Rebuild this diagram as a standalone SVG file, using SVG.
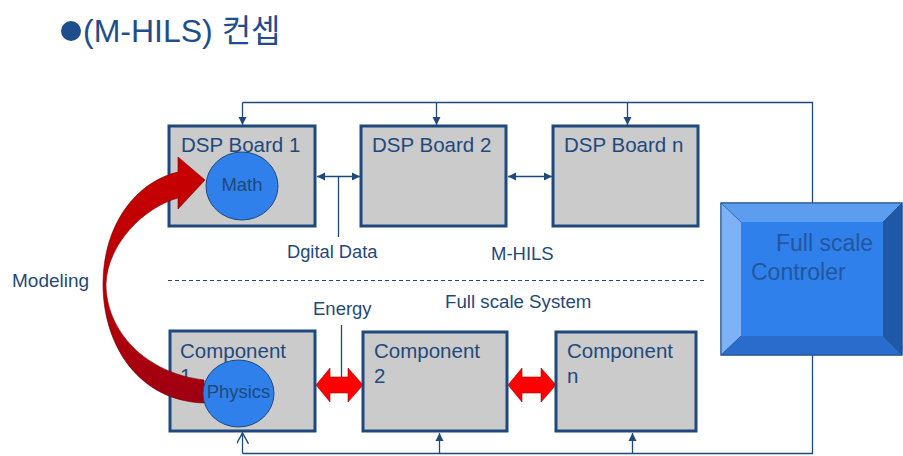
<svg xmlns="http://www.w3.org/2000/svg" width="903" height="456" viewBox="0 0 903 456">
<style>
.t{font-family:"Liberation Sans","Noto Sans CJK KR",Arial,sans-serif;fill:#1F497D}
.box{fill:#CBCBCB;stroke:#1F497D;stroke-width:3}
.circ{fill:#2F80EA;stroke:#1F497D;stroke-width:1}
.ln{fill:none;stroke:#1F497D;stroke-width:1.3}
.red{fill:#FF0000;stroke:#B00000;stroke-width:0.6}
</style>
<defs>
<marker id="ah" markerUnits="userSpaceOnUse" markerWidth="10" markerHeight="10" refX="8" refY="4" orient="auto-start-reverse" viewBox="0 0 10 8">
<path d="M0,0 L8,4 L0,8 Z" fill="#1F497D"/>
</marker>
<marker id="ao" markerUnits="userSpaceOnUse" markerWidth="12" markerHeight="12" refX="9" refY="5" orient="auto" viewBox="0 0 10 10">
<path d="M0,0 L9,5 L0,10" fill="none" stroke="#1F497D" stroke-width="1.2"/>
</marker>
<linearGradient id="rg" x1="0" y1="0" x2="0" y2="1">
<stop offset="0" stop-color="#C80000"/>
<stop offset="0.55" stop-color="#B80008"/>
<stop offset="1" stop-color="#9E0012"/>
</linearGradient>
</defs>

<g id="title">
<circle cx="71" cy="31" r="10" fill="#1F4E8C"/>
<text class="t" x="83" y="42" font-size="32" style="fill:#1F4E8C">(M-HILS) 컨셉</text>
</g>

<g id="connectors">
<polyline class="ln" points="242.5,102.5 812.5,102.5 812.5,203"/>
<line class="ln" x1="242.5" y1="102.5" x2="242.5" y2="125" marker-end="url(#ah)"/>
<line class="ln" x1="436.5" y1="102.5" x2="436.5" y2="125" marker-end="url(#ah)"/>
<line class="ln" x1="627.5" y1="102.5" x2="627.5" y2="125" marker-end="url(#ah)"/>
<polyline class="ln" points="812.5,355 812.5,453.5 242.5,453.5"/>
<line class="ln" x1="242.5" y1="453.5" x2="242.5" y2="433" marker-end="url(#ao)"/>
<line class="ln" x1="439.5" y1="453.5" x2="439.5" y2="433" marker-end="url(#ah)"/>
<line class="ln" x1="632.5" y1="453.5" x2="632.5" y2="433" marker-end="url(#ah)"/>
<line class="ln" x1="317" y1="176.5" x2="360" y2="176.5" marker-start="url(#ah)" marker-end="url(#ah)"/>
<line class="ln" x1="508" y1="176.5" x2="552" y2="176.5" marker-start="url(#ah)" marker-end="url(#ah)"/>
<line class="ln" x1="338.5" y1="176.5" x2="338.5" y2="237"/>
<line class="ln" x1="341.5" y1="325" x2="341.5" y2="378"/>
<line x1="168" y1="280.5" x2="706" y2="280.5" stroke="#1F497D" stroke-width="1.1" stroke-dasharray="4,3"/>
<polygon class="red" points="316,385 330,368 330,377 348,377 348,368 363,385 348,402 348,393 330,393 330,402"/>
<polygon class="red" points="508,385 522,368 522,377 541,377 541,368 556,385 541,402 541,393 522,393 522,402"/>
</g>

<g id="labels">
<text class="t" x="287" y="258" font-size="18.3">Dgital Data</text>
<text class="t" x="491" y="260" font-size="18.5">M-HILS</text>
<text class="t" x="12" y="287" font-size="19">Modeling</text>
<text class="t" x="313" y="315" font-size="18.5">Energy</text>
<text class="t" x="445" y="308" font-size="18.7">Full scale System</text>
</g>

<g id="dsp1">
<rect class="box" x="169" y="126" width="146" height="100"/>
<text class="t" x="181" y="152" font-size="20.5">DSP Board 1</text>
</g>
<g id="dsp2">
<rect class="box" x="361" y="126" width="145" height="100"/>
<text class="t" x="372" y="152" font-size="20.5">DSP Board 2</text>
</g>
<g id="dspn">
<rect class="box" x="553" y="126" width="145" height="100"/>
<text class="t" x="564" y="152" font-size="20.5">DSP Board n</text>
</g>

<g id="comp1">
<rect class="box" x="170" y="331" width="145" height="100"/>
<text class="t" x="180" y="358" font-size="20.5">Component</text>
<text class="t" x="180" y="383" font-size="20.5">1</text>
</g>
<g id="comp2">
<rect class="box" x="363" y="332" width="144" height="99"/>
<text class="t" x="374" y="358" font-size="20.5">Component</text>
<text class="t" x="374" y="383" font-size="20.5">2</text>
</g>
<g id="compn">
<rect class="box" x="556" y="332" width="140" height="99"/>
<text class="t" x="567" y="358" font-size="20.5">Component</text>
<text class="t" x="567" y="383" font-size="20.5">n</text>
</g>

<g id="modeling-arrow">
<path d="M 204 403 C 140 401 103 347 103 284 C 103 226 135 182 178 172 L 178 157 L 205 180 L 178 209 L 178 198 C 142 208 107 246 106 284 C 106 331 145 373 204 380 Z" fill="url(#rg)" stroke="#7A0000" stroke-width="0.6"/>
</g>

<g id="math">
<ellipse class="circ" cx="242" cy="186" rx="36" ry="34"/>
<text class="t" x="242" y="191" font-size="18.5" text-anchor="middle">Math</text>
</g>
<g id="physics">
<ellipse class="circ" cx="238.5" cy="393.5" rx="35.5" ry="33.5"/>
<text class="t" x="238.5" y="398" font-size="18.5" text-anchor="middle">Physics</text>
</g>

<g id="controller">
<rect x="721" y="203" width="181" height="152" fill="#2F80EA" stroke="#1F4E8C" stroke-width="1"/>
<polygon points="721,203 902,203 883,222 741,222" fill="#5C9DF0"/>
<polygon points="721,203 741,222 741,336 721,355" fill="#7DB3F6"/>
<polygon points="902,203 902,355 883,336 883,222" fill="#1F58A6"/>
<polygon points="721,355 741,336 883,336 902,355" fill="#2A6CCB"/>
<rect x="741" y="222" width="142" height="114" fill="#2F80EA"/>
<rect x="721" y="203" width="181" height="152" fill="none" stroke="#1F4E8C" stroke-width="1"/>
<g stroke="#1F4E8C" stroke-width="0.6"><line x1="721" y1="203" x2="741" y2="222"/><line x1="902" y1="203" x2="883" y2="222"/><line x1="721" y1="355" x2="741" y2="336"/><line x1="902" y1="355" x2="883" y2="336"/></g>
<text class="t" x="776" y="251" font-size="23" style="fill:#22579E">Full scale</text>
<text class="t" x="751" y="280" font-size="23" style="fill:#22579E">Controler</text>
</g>
</svg>
